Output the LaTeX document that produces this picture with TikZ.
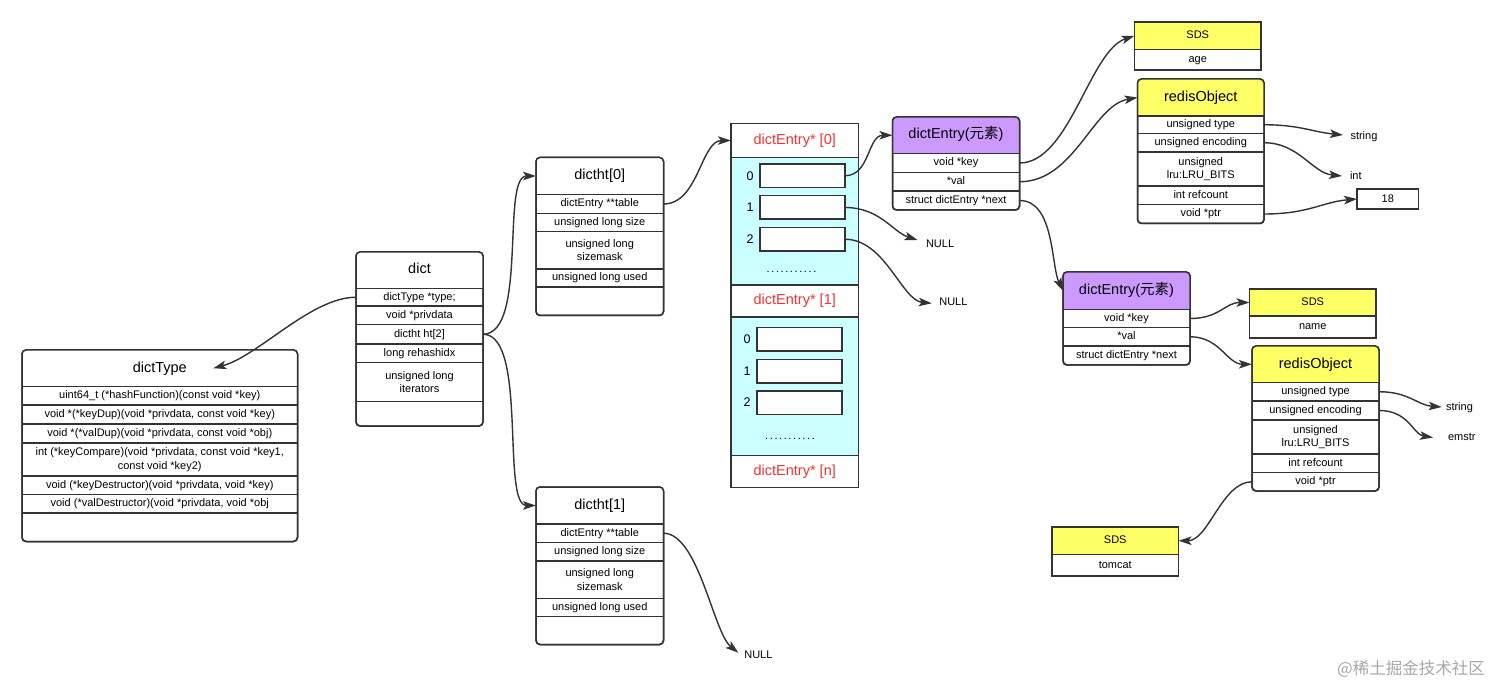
\documentclass[tikz,border=0pt]{standalone}
\usepackage{fontspec}
\setmainfont{Liberation Sans}
\newfontfamily\cjk{Noto Sans CJK SC}
\usetikzlibrary{arrows.meta}
\definecolor{ln}{HTML}{333333}
\definecolor{hpurple}{HTML}{CC99FF}
\definecolor{hyellow}{HTML}{FFFF66}
\definecolor{acyan}{HTML}{CCFFFF}
\definecolor{hred}{HTML}{F23232}
\definecolor{wm}{HTML}{A8A8A8}

\tikzset{
  boxline/.style={draw=ln, line width=1.5pt},
  sepline/.style={draw=ln, line width=1.3pt},
  cellnode/.style={inner sep=0pt, outer sep=0pt, align=center,
    font=\fontsize{11}{13.5}\selectfont, text height=8pt, text depth=2.3pt},
  ml/.style={text height=, text depth=},
  hdrnode/.style={inner sep=0pt, outer sep=0pt, align=center,
    font=\fontsize{14.5}{16}\selectfont, text height=10.5pt, text depth=3pt},
  sdsfont/.style={font=\fontsize{11}{13}\selectfont, text height=8pt, text depth=2.3pt},
  conn/.style={draw=ln, line width=1.4pt, -{Stealth[length=13pt,width=8.5pt,inset=3pt]}},
  lbl/.style={inner sep=0pt, outer sep=0pt, anchor=west,
    font=\fontsize{11}{13}\selectfont, text height=8pt, text depth=2.3pt},
  slot/.style={draw=ln, line width=1.5pt, fill=white, minimum width=85pt,
    minimum height=23.5pt, inner sep=0pt, outer sep=0pt},
  idx/.style={inner sep=0pt, font=\fontsize{12.5}{14}\selectfont},
  dotrow/.style={inner sep=0pt, font=\fontsize{11}{13}\selectfont},
}

\newcommand\myframebox[7]{%
  \draw[boxline, fill=white, #1] (#2,#3) rectangle (#4,#5);
  \begin{scope}
    \clip[#1] (#2,#3) rectangle (#4,#5);
    \fill[#7] (#2,#3) rectangle (#4,#6);
  \end{scope}
  \draw[boxline, #1] (#2,#3) rectangle (#4,#5);}
\newcommand\myhdrcell[7][]{%
  \node[hdrnode,#1,minimum width={#5-#3},minimum height={#6-#4}] (#2)
    at ({(#3+#5)/2},{(#4+#6)/2}) {#7};}
\newcommand\myrowcell[7][]{%
  \node[cellnode,#1,minimum width={#5-#3},minimum height={#6-#4}] (#2)
    at ({(#3+#5)/2},{(#4+#6)/2}) {#7};
  \draw[sepline] (#2.north west) -- (#2.north east);}
\newcommand\mydotsrow{.\hspace{1.6pt}.\hspace{1.6pt}.\hspace{1.6pt}.\hspace{1.6pt}.\hspace{1.6pt}.\hspace{1.6pt}.\hspace{1.6pt}.\hspace{1.6pt}.\hspace{1.6pt}.\hspace{1.6pt}.}

\begin{document}
\begin{tikzpicture}[x=1pt,y=-1pt]
\fill[white] (0,0) rectangle (1512,700);
\useasboundingbox (0,0) rectangle (1512,700);

% dictType
\myframebox{rounded corners=4pt}{22}{350}{297.5}{541.5}{386.5}{white}
\myhdrcell{dtH}{22}{350}{297.5}{386.5}{dictType}
\myrowcell{dt1}{22}{386.5}{297.5}{405}{uint64\_t (*hashFunction)(const void *key)}
\myrowcell{dt2}{22}{405}{297.5}{424}{void *(*keyDup)(void *privdata, const void *key)}
\myrowcell{dt3}{22}{424}{297.5}{443}{void *(*valDup)(void *privdata, const void *obj)}
\myrowcell[ml]{dt4}{22}{443}{297.5}{476}{int (*keyCompare)(void *privdata, const void *key1,\\ const void *key2)}
\myrowcell{dt5}{22}{476}{297.5}{494.5}{void (*keyDestructor)(void *privdata, void *key)}
\myrowcell{dt6}{22}{494.5}{297.5}{513}{void (*valDestructor)(void *privdata, void *obj}
\myrowcell{dt7}{22}{513}{297.5}{541.5}{}

% dict
\myframebox{rounded corners=4pt}{356}{252}{483}{426}{288.5}{white}
\myhdrcell{dH}{356}{252}{483}{288.5}{dict}
\myrowcell{d1}{356}{288.5}{483}{306}{dictType *type;}
\myrowcell{d2}{356}{306}{483}{324.5}{void *privdata}
\myrowcell{d3}{356}{324.5}{483}{344}{dictht ht[2]}
\myrowcell{d4}{356}{344}{483}{362.5}{long rehashidx}
\myrowcell[ml]{d5}{356}{362.5}{483}{401.5}{unsigned long\\iterators}
\myrowcell{d6}{356}{401.5}{483}{426}{}

% dictht[0]
\myframebox{rounded corners=4pt}{536}{157.5}{663.5}{315.5}{194.5}{white}
\myhdrcell{h0H}{536}{157.5}{663.5}{194.5}{dictht[0]}
\myrowcell{h0r1}{536}{194.5}{663.5}{213.5}{dictEntry **table}
\myrowcell{h0r2}{536}{213.5}{663.5}{231.5}{unsigned long size}
\myrowcell[ml]{h0r3}{536}{231.5}{663.5}{269}{unsigned long\\sizemask}
\myrowcell{h0r4}{536}{269}{663.5}{287}{unsigned long used}
\myrowcell{h0r5}{536}{287}{663.5}{315.5}{}

% dictht[1]
\myframebox{rounded corners=4pt}{536}{487}{663.5}{644.5}{524}{white}
\myhdrcell{h1H}{536}{487}{663.5}{524}{dictht[1]}
\myrowcell{h1r1}{536}{524}{663.5}{542.5}{dictEntry **table}
\myrowcell{h1r2}{536}{542.5}{663.5}{561}{unsigned long size}
\myrowcell[ml]{h1r3}{536}{561}{663.5}{598.5}{unsigned long\\sizemask}
\myrowcell{h1r4}{536}{598.5}{663.5}{616.5}{unsigned long used}
\myrowcell{h1r5}{536}{616.5}{663.5}{644.5}{}

% bucket array
\draw[boxline, fill=white] (731,123.5) rectangle (858.5,487.5);
\myhdrcell[text=hred]{aH0}{731}{123.5}{858.5}{157.5}{dictEntry* [0]}
\myrowcell[fill=acyan]{aC0}{731}{157.5}{858.5}{285}{}
\myrowcell[hdrnode,text=hred]{aH1}{731}{285}{858.5}{317}{dictEntry* [1]}
\myrowcell[fill=acyan]{aC1}{731}{317}{858.5}{455.5}{}
\myrowcell[hdrnode,text=hred]{aHn}{731}{455.5}{858.5}{487.5}{dictEntry* [n]}
\draw[sepline] (aH1.north west) -- (aH1.north east);
\draw[sepline] (aC1.north west) -- (aC1.north east);
\draw[sepline] (aHn.north west) -- (aHn.north east);
\draw[boxline] (731,123.5) rectangle (858.5,487.5);

\node[slot] (s00) at (802.5,175.75) {};
\node[slot] (s01) at (802.5,207.5) {};
\node[slot] (s02) at (802.5,239.25) {};
\node[idx] (i00) at (750,176) {0};
\node[idx] (i01) at (750,207.5) {1};
\node[idx] (i02) at (750,239.25) {2};
\node[dotrow] (dots0) at (791.5,271.5) {\mydotsrow};

\node[slot] (s10) at (799.5,339.5) {};
\node[slot] (s11) at (799.5,371.25) {};
\node[slot] (s12) at (799.5,402.5) {};
\node[idx] (i10) at (747,339.5) {0};
\node[idx] (i11) at (747,371.25) {1};
\node[idx] (i12) at (747,402.5) {2};
\node[dotrow] (dots1) at (790,439) {\mydotsrow};

% NULL labels
\node[lbl] (null1) at (926,245) {NULL};
\node[lbl] (null2) at (939.3,302.3) {NULL};
\node[lbl] (null3) at (744.3,656) {NULL};

% dictEntry 1
\myframebox{rounded corners=4pt}{892.5}{117}{1019.5}{210}{153.5}{hpurple}
\myhdrcell{e1H}{892.5}{117}{1019.5}{153.5}{dictEntry({\cjk 元素})}
\myrowcell{e1r1}{892.5}{153.5}{1019.5}{172.5}{void *key}
\myrowcell{e1r2}{892.5}{172.5}{1019.5}{191}{*val}
\myrowcell{e1r3}{892.5}{191}{1019.5}{210}{struct dictEntry *next}

% dictEntry 2
\myframebox{rounded corners=4pt}{1063}{272}{1190}{365}{309.5}{hpurple}
\myhdrcell{e2H}{1063}{272}{1190}{309.5}{dictEntry({\cjk 元素})}
\myrowcell{e2r1}{1063}{309.5}{1190}{327.5}{void *key}
\myrowcell{e2r2}{1063}{327.5}{1190}{346}{*val}
\myrowcell{e2r3}{1063}{346}{1190}{365}{struct dictEntry *next}

% SDS age
\myframebox{sharp corners}{1134.5}{22}{1261}{70}{49.5}{hyellow}
\myhdrcell[sdsfont]{sAH}{1134.5}{22}{1261}{49.5}{SDS}
\myrowcell{sAr}{1134.5}{49.5}{1261}{70}{age}

% redisObject 1
\myframebox{rounded corners=4pt}{1137.5}{79}{1264}{223.5}{116}{hyellow}
\myhdrcell{r1H}{1137.5}{79}{1264}{116}{redisObject}
\myrowcell{r1r1}{1137.5}{116}{1264}{133.5}{unsigned type}
\myrowcell{r1r2}{1137.5}{133.5}{1264}{152}{unsigned encoding}
\myrowcell[ml]{r1r3}{1137.5}{152}{1264}{186}{unsigned\\lru:LRU\_BITS}
\myrowcell{r1r4}{1137.5}{186}{1264}{204.5}{int refcount}
\myrowcell{r1r5}{1137.5}{204.5}{1264}{223.5}{void *ptr}

\node[lbl] (str1) at (1350.5,136.5) {string};
\node[lbl] (int1) at (1350,176.5) {int};
\node[slot, minimum width=61.5pt, minimum height=20pt, font=\fontsize{11}{13}\selectfont] (n18) at (1387.75,199) {18};

% SDS name
\myframebox{sharp corners}{1249.5}{289}{1376}{338}{316}{hyellow}
\myhdrcell[sdsfont]{sNH}{1249.5}{289}{1376}{316}{SDS}
\myrowcell{sNr}{1249.5}{316}{1376}{338}{name}

% redisObject 2
\myframebox{rounded corners=4pt}{1252}{346}{1379}{491}{382.5}{hyellow}
\myhdrcell{r2H}{1252}{346}{1379}{382.5}{redisObject}
\myrowcell{r2r1}{1252}{382.5}{1379}{401}{unsigned type}
\myrowcell{r2r2}{1252}{401}{1379}{420}{unsigned encoding}
\myrowcell[ml]{r2r3}{1252}{420}{1379}{454}{unsigned\\lru:LRU\_BITS}
\myrowcell{r2r4}{1252}{454}{1379}{472.5}{int refcount}
\myrowcell{r2r5}{1252}{472.5}{1379}{491}{void *ptr}

\node[lbl] (str2) at (1446,407.5) {string};
\node[lbl] (em2) at (1448,438) {emstr};

% SDS tomcat
\myframebox{sharp corners}{1052}{527}{1178.5}{576}{554.5}{hyellow}
\myhdrcell[sdsfont]{sTH}{1052}{527}{1178.5}{554.5}{SDS}
\myrowcell{sTr}{1052}{554.5}{1178.5}{576}{tomcat}

% connectors
\draw[conn] (d1.west) .. controls +(-45,0) and +(45,-12) .. ([shift={(53.5,0)}]dtH.center);
\draw[conn] (d3.east) .. controls +(45,0) and +(-35,0) .. (h0H.west);
\draw[conn] (d3.east) .. controls +(45,0) and +(-35,0) .. (h1H.west);
\draw[conn] (h0r1.east) .. controls +(35,0) and +(-30,0) .. (aH0.west);
\draw[conn] (h1r1.east) .. controls +(35,0) and +(-25,-20) .. ([shift={(-6,-3.3)}]null3.west);
\draw[conn] (s00.east) .. controls +(25,0) and +(-25,0) .. (e1H.west);
\draw[conn] (s01.east) .. controls +(35,0) and +(-25,-8) .. ([shift={(-8.5,-5)}]null1.west);
\draw[conn] (s02.east) .. controls +(40,0) and +(-30,-3) .. ([shift={(-7.6,1)}]null2.west);
\draw[conn] (e1r1.east) .. controls +(50,0) and +(-45,15) .. (sAH.west);
\draw[conn] (e1r2.east) .. controls +(55,0) and +(-45,8) .. (r1H.west);
\draw[conn] (e1r3.east) .. controls +(35,0) and +(-12,-25) .. (e2H.west);
\draw[conn] (r1r1.east) .. controls +(35,0) and +(-30,-3) .. ([shift={(-7.5,-1.5)}]str1.west);
\draw[conn] (r1r2.east) .. controls +(35,0) and +(-30,-3) .. ([shift={(-8,-0.5)}]int1.west);
\draw[conn] (r1r5.east) .. controls +(45,0) and +(-35,3) .. (n18.west);
\draw[conn] (e2r1.east) .. controls +(30,0) and +(-25,0) .. (sNH.west);
\draw[conn] (e2r2.east) .. controls +(30,0) and +(-25,0) .. (r2H.west);
\draw[conn] (r2r1.east) .. controls +(30,0) and +(-25,-2) .. ([shift={(-4.3,-0.5)}]str2.west);
\draw[conn] (r2r2.east) .. controls +(30,0) and +(-20,-3) .. ([shift={(-15,-0.5)}]em2.west);
\draw[conn] (r2r5.west) .. controls +(-30,0) and +(30,0) .. (sTH.east);

% watermark
\node[font=\cjk\fontsize{16.5}{18}\selectfont, text=wm, inner sep=0pt] (wmark) at (1411,669) {@稀土掘金技术社区};
\end{tikzpicture}
\end{document}
